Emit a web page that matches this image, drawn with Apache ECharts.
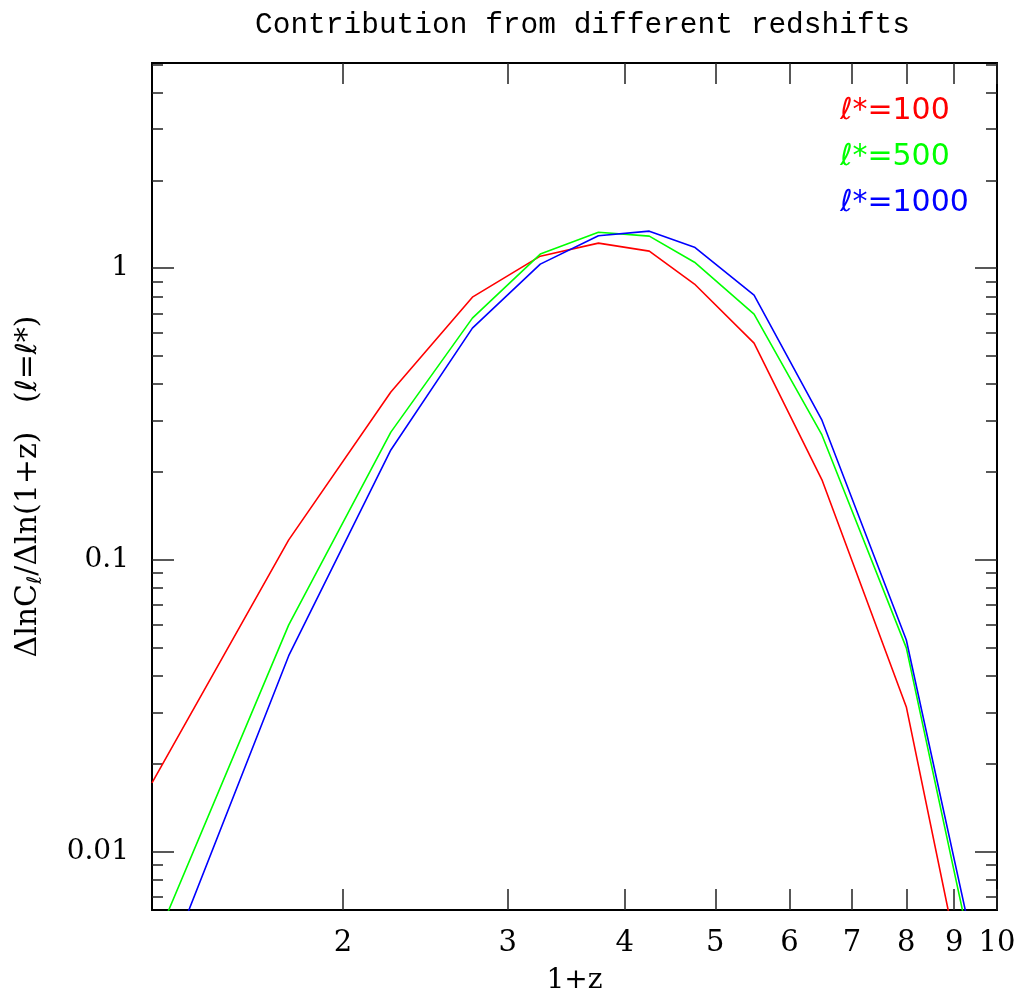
<!DOCTYPE html>
<html>
<head>
<meta charset="utf-8">
<script src="https://cdn.jsdelivr.net/npm/echarts@6/dist/echarts.min.js"></script>
<style>
html,body{margin:0;padding:0;background:#fff;}
#chart{width:1025px;height:994px;}
</style>
</head>
<body>
<div id="chart"></div>
<script>
// ---- data ----
const xValues = [1.25, 1.75, 2.25, 2.75, 3.25, 3.75, 4.25, 4.75, 5.5, 6.5, 8, 10];
const seriesNames = ['ℓ*=100', 'ℓ*=500', 'ℓ*=1000'];
const seriesColors = ['#ff0000', '#00ff00', '#0000ff'];
const yL100  = [0.0172, 0.117, 0.376, 0.795, 1.099, 1.218, 1.144, 0.882, 0.553, 0.188, 0.0313, 0.00097];
const yL500  = [0.0046, 0.0598, 0.274, 0.674, 1.117, 1.328, 1.287, 1.048, 0.696, 0.268, 0.0499, 0.00176];
const yL1000 = [0.0030, 0.0469, 0.238, 0.623, 1.032, 1.292, 1.339, 1.180, 0.808, 0.301, 0.0531, 0.0020];
const xTickValues = [2, 3, 4, 5, 6, 7, 8, 9, 10];
const yMajorTicks = [0.01, 0.1, 1];
const yMinorTicks = [0.007, 0.008, 0.009, 0.02, 0.03, 0.04, 0.05, 0.06, 0.07, 0.08, 0.09,
                     0.2, 0.3, 0.4, 0.5, 0.6, 0.7, 0.8, 0.9, 2, 3, 4, 5];
const xRange = [1.25, 10];
const yRange = [0.0063, 5.05];

const allY = [yL100, yL500, yL1000];

const chart = echarts.init(document.getElementById('chart'), null, {renderer: 'canvas'});

const serif = 'DejaVu Serif';
const lineColor = '#000';
const tickStyle = {color: '#222', width: 1.5};

function fmt(v) { return String(+Number(v).toPrecision(3)); }

function xAxisDef(pos, withLabels) {
  return {
    type: 'log', logBase: 10, position: pos, min: xRange[0], max: xRange[1],
    axisLine: {show: true, onZero: false, lineStyle: {color: lineColor, width: 2}},
    axisTick: {show: true, inside: true, length: 21, lineStyle: tickStyle, customValues: xTickValues},
    axisLabel: {show: withLabels, customValues: xTickValues, color: '#000', fontFamily: serif, fontSize: 29, margin: 19, formatter: fmt},
    splitLine: {show: false}, minorTick: {show: false},
    name: withLabels ? '1+z' : '', nameLocation: 'middle', nameGap: 57,
    nameTextStyle: {color: '#000', fontFamily: serif, fontSize: 28}
  };
}
function yAxisDef(pos, major, withLabels, withName) {
  const ticks = major ? yMajorTicks : yMinorTicks;
  return {
    type: 'log', logBase: 10, position: pos, min: yRange[0], max: yRange[1],
    axisLine: {show: true, onZero: false, lineStyle: {color: lineColor, width: 2}},
    axisTick: {show: true, inside: true, length: major ? 22 : 11, lineStyle: tickStyle, customValues: ticks},
    axisLabel: {show: withLabels, customValues: yMajorTicks, color: '#000', fontFamily: serif, fontSize: 28, margin: 23, formatter: fmt},
    splitLine: {show: false}, minorTick: {show: false},
    name: withName ? 'ΔlnC{sub|ℓ}/Δln(1+z)   ({l|ℓ}={l|ℓ}*)' : '',
    nameLocation: 'middle', nameRotate: 90, nameGap: 106,
    nameTextStyle: {
      color: '#000', fontFamily: serif, fontSize: 30,
      rich: {
        sub: {fontFamily: 'DejaVu Sans', fontStyle: 'italic', fontSize: 20, color: '#000', padding: [16, 0, 0, 0]},
        l: {fontFamily: 'DejaVu Sans', fontStyle: 'italic', fontSize: 29, color: '#000'}
      }
    }
  };
}

const series = seriesNames.map((name, i) => ({
  name: name, type: 'line', xAxisIndex: 0, yAxisIndex: 0,
  data: xValues.map((x, j) => [x, allY[i][j]]),
  showSymbol: false, symbol: 'none', clip: true, smooth: false,
  lineStyle: {color: seriesColors[i], width: 1.6},
  itemStyle: {color: seriesColors[i]},
  animation: false, z: 3
}));

const legendTexts = seriesNames.map((name, i) => ({
  type: 'text', left: 840, top: 96 + i * 46, z: 10,
  style: {
    text: '{i|ℓ}' + name.slice(1),
    fill: seriesColors[i], font: '30px "DejaVu Sans"',
    rich: {i: {fontStyle: 'italic', fontFamily: 'DejaVu Sans', fontSize: 30, fill: seriesColors[i]}}
  }
}));

chart.setOption({
  backgroundColor: '#fff',
  animation: false,
  title: {
    text: 'Contribution from different redshifts', left: 250, top: 5,
    textStyle: {color: '#000', fontFamily: 'Liberation Mono', fontSize: 29.5, fontWeight: 'normal'}
  },
  grid: {left: 152, top: 63, width: 845, height: 847, containLabel: false, outerBoundsMode: 'none'},
  xAxis: [xAxisDef('bottom', true), xAxisDef('top', false)],
  yAxis: [yAxisDef('left', true, true, true), yAxisDef('left', false, false, false),
          yAxisDef('right', true, false, false), yAxisDef('right', false, false, false)],
  graphic: legendTexts,
  series: series
});
</script>
</body>
</html>
